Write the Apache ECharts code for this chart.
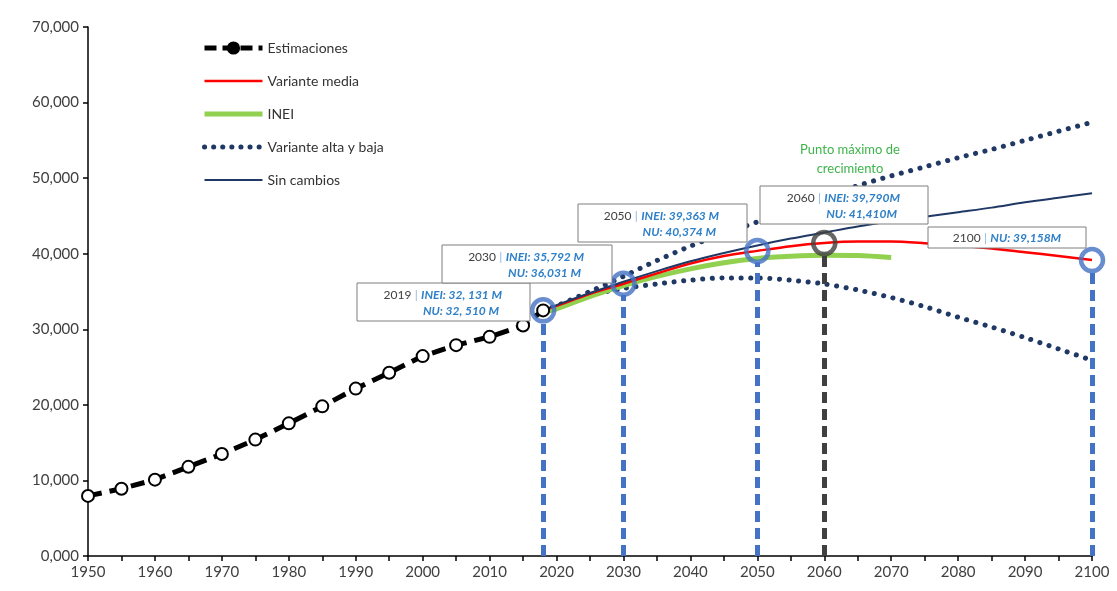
<!DOCTYPE html>
<html><head><meta charset="utf-8">
<script src="https://cdn.jsdelivr.net/npm/echarts@6/dist/echarts.min.js"></script>
<style>html,body{margin:0;padding:0;background:#fff}#c{width:1117px;height:591px}</style>
</head><body><div id="c"></div>
<script>
// ---- data (thousands of people) ----
const estYears  = [1950,1955,1960,1965,1970,1975,1980,1985,1990,1995,2000,2005,2010,2015,2018];
const estValues = [7950,8900,10100,11800,13500,15400,17550,19800,22150,24250,26450,27900,29000,30500,32500];

const projYears        = [2018,2020,2025,2030,2035,2040,2045,2050,2055,2060,2065,2070,2075,2080,2085,2090,2095,2100];
const mediaValues      = [32500,33100,34700,36031,37400,38700,39700,40374,41000,41410,41600,41600,41400,41100,40700,40200,39700,39158];
const sinCambiosValues = [32500,33200,34800,36300,37700,39000,40100,41100,42000,42800,43600,44300,44900,45500,46100,46800,47400,48000];
const altaValues       = [32500,33100,35000,37000,39100,41000,42700,44200,45900,47500,49000,50300,51500,52700,53800,55000,56200,57400];
const bajaValues       = [32500,33000,34500,35400,36000,36500,36800,36800,36500,36000,35200,34200,33000,31600,30300,28900,27400,25900];

const ineiYears  = [2018,2020,2025,2030,2035,2040,2045,2050,2055,2060,2065,2070];
const ineiValues = [32300,32700,34350,35792,37000,38000,38800,39363,39650,39790,39750,39500];

const markYears  = [2018,2030,2050,2060,2100];
const markValues = [32510,36031,40374,41410,39158];

const annYear = ['2019','2030','2050','2060','2100'];
const annInei = ['INEI: 32, 131 M','INEI: 35,792 M','INEI: 39,363 M','INEI: 39,790M', ''];
const annNu   = ['NU: 32, 510 M','NU: 36,031 M','NU: 40,374 M','NU: 41,410M','NU: 39,158M'];
const peakNote = ['Punto máximo de', 'crecimiento'];

const legendNames = ['Estimaciones','Variante media','INEI','Variante alta y baja','Sin cambios'];

// ---- helpers ----
const zip = (xs, ys) => xs.map((x, i) => [x, ys[i]]);
const FONT = 'Lato, "Open Sans", sans-serif';
const BLUE = '#4472C4', GREY = '#404040', NAVY = '#1F3864', TXTBLUE = '#2F80C8';

// annotation box layout (pixels)
const boxes = [
  {x:357, y:283, w:173, h:38},
  {x:442, y:245, w:170, h:38},
  {x:578, y:204, w:169, h:38},
  {x:760, y:186, w:168, h:38},
  {x:928, y:227, w:158, h:21}
];
const rich = {
  y: {fill: GREY, font: '12px ' + FONT},
  p: {fill: '#8DB3E2', font: '12px ' + FONT},
  b: {fill: TXTBLUE, font: 'italic bold 12px ' + FONT}
};
const graphics = [];
boxes.forEach((bx, i) => {
  graphics.push({
    type: 'rect', x: bx.x, y: bx.y, z: 100, shape: {x: 0, y: 0, width: bx.w, height: bx.h},
    style: {fill: '#fff', stroke: '#7F7F7F', lineWidth: 1}
  });
  if (annInei[i]) {
    graphics.push({type: 'text', x: bx.x + bx.w - 28, y: bx.y + 12, z: 101, style: {
      text: '{y|' + annYear[i] + '} {p||} {b|' + annInei[i] + '}', rich, align: 'right', verticalAlign: 'middle'}});
    graphics.push({type: 'text', x: bx.x + bx.w - 31, y: bx.y + 28, z: 101, style: {
      text: '{b|' + annNu[i] + '}', rich, align: 'right', verticalAlign: 'middle'}});
  } else {
    graphics.push({type: 'text', x: bx.x + bx.w / 2, y: bx.y + bx.h / 2 + 1, z: 101, style: {
      text: '{y|' + annYear[i] + '} {p||} {b|' + annNu[i] + '}', rich, align: 'center', verticalAlign: 'middle'}});
  }
});
graphics.push({type: 'text', x: 850, y: 159, z: 101, style: {
  text: peakNote.join('\n'), fill: '#3DB54A', font: '13px ' + FONT, align: 'center', verticalAlign: 'middle', lineHeight: 19}});

const hiddenSym = {opacity: 0};
const chart = echarts.init(document.getElementById('c'));
chart.setOption({
  animation: false,
  backgroundColor: '#fff',
  textStyle: {fontFamily: FONT},
  grid: {left: 88, right: 25, top: 27, bottom: 35},
  legend: {
    data: [
      {name: legendNames[0], itemStyle: {color: '#000', borderColor: '#000'}, lineStyle: {width: 5, type: [12, 6]}},
      {name: legendNames[1], itemStyle: hiddenSym, lineStyle: {width: 2.5}},
      {name: legendNames[2], itemStyle: hiddenSym, lineStyle: {width: 5}},
      {name: legendNames[3], itemStyle: hiddenSym, lineStyle: {width: 5, type: [0.1, 9], cap: 'round'}},
      {name: legendNames[4], itemStyle: hiddenSym, lineStyle: {width: 2}}
    ],
    orient: 'vertical', left: 197, top: 36,
    itemWidth: 58, itemHeight: 14, itemGap: 19,
    textStyle: {fontSize: 14, color: '#333', fontFamily: FONT}
  },
  xAxis: {
    type: 'value', min: 1950, max: 2100, interval: 5,
    axisLine: {lineStyle: {color: '#000', width: 1.5}},
    axisTick: {show: true, length: 5, lineStyle: {color: '#000', width: 1.5}},
    splitLine: {show: false},
    axisLabel: {color: GREY, fontSize: 15, margin: 9,
      formatter: v => (v % 10 === 0 ? String(v) : '')}
  },
  yAxis: {
    type: 'value', min: 0, max: 70000, interval: 10000,
    axisLine: {show: true, lineStyle: {color: '#000', width: 1.5}},
    axisTick: {show: true, length: 5, lineStyle: {color: '#000', width: 1.5}},
    splitLine: {show: false},
    axisLabel: {color: GREY, fontSize: 15, margin: 9,
      formatter: v => (v / 1000).toFixed(3).replace('.', ',')}
  },
  series: [
    {
      name: 'Variante alta y baja', type: 'line', data: zip(projYears, altaValues),
      symbol: 'none', smooth: 0.3, z: 3,
      lineStyle: {color: NAVY, width: 5, type: [0.1, 9.5], cap: 'round'},
      itemStyle: {color: NAVY}
    },
    {
      name: 'Variante alta y baja', type: 'line', data: zip(projYears, bajaValues),
      symbol: 'none', smooth: 0.3, z: 3,
      lineStyle: {color: NAVY, width: 5, type: [0.1, 9.5], cap: 'round'},
      itemStyle: {color: NAVY}
    },
    {
      name: 'INEI', type: 'line', data: zip(ineiYears, ineiValues),
      symbol: 'none', smooth: 0.3, z: 4,
      lineStyle: {color: '#92D050', width: 5},
      itemStyle: {color: '#92D050'}
    },
    {
      name: 'Variante media', type: 'line', data: zip(projYears, mediaValues),
      symbol: 'none', smooth: 0.3, z: 5,
      lineStyle: {color: '#FF0000', width: 2.5},
      itemStyle: {color: '#FF0000'}
    },
    {
      name: 'Sin cambios', type: 'line', data: zip(projYears, sinCambiosValues),
      symbol: 'none', smooth: 0.3, z: 5,
      lineStyle: {color: NAVY, width: 2},
      itemStyle: {color: NAVY}
    },
    {
      name: 'Estimaciones', type: 'line', data: zip(estYears, estValues),
      symbol: 'circle', symbolSize: 12, z: 6,
      lineStyle: {color: '#000', width: 5, type: [14, 8]},
      itemStyle: {color: '#fff', borderColor: '#000', borderWidth: 2}
    },
    {
      name: 'marks', type: 'scatter', z: 8,
      data: zip(markYears, markValues).map((d, i) => ({
        value: d,
        itemStyle: {borderColor: markYears[i] === 2060 ? GREY : BLUE}
      })),
      symbol: 'circle', symbolSize: 22,
      itemStyle: {color: 'rgba(255,255,255,0)', borderColor: BLUE, borderWidth: 4.5},
      markLine: {
        silent: true, symbol: 'none', label: {show: false},
        data: markYears.map((y, i) => [
          {coord: [y, 0], lineStyle: {color: y === 2060 ? GREY : BLUE, width: 5, type: [11, 6]}},
          {coord: [y, markValues[i] - 1500]}
        ])
      }
    }
  ],
  graphic: graphics
});
</script>
</body></html>
